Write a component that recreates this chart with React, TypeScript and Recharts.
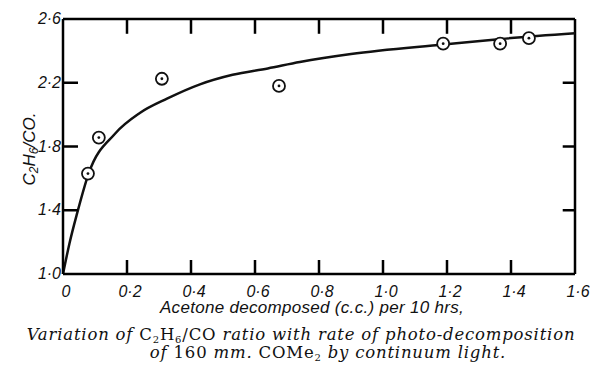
import React from "react";
import { ComposedChart, Line, Scatter, XAxis, YAxis, ReferenceLine } from "recharts";

const curveX = [0, 0.02, 0.044, 0.08, 0.1625, 0.24, 0.325, 0.428, 0.53, 0.64, 0.74, 0.9, 1.19, 1.37, 1.6];
const curveY = [1.0, 1.19, 1.38, 1.63, 1.88, 2.01, 2.1, 2.19, 2.25, 2.29, 2.33, 2.38, 2.44, 2.475, 2.51];

// measured points
const pointX = [0.078, 0.112, 0.309, 0.675, 1.188, 1.366, 1.456];
const pointY = [1.63, 1.856, 2.225, 2.18, 2.445, 2.445, 2.48];

const xTicks = [0, 0.2, 0.4, 0.6, 0.8, 1.0, 1.2, 1.4, 1.6];
const yTicks = [1.0, 1.4, 1.8, 2.2, 2.6];

const X_MIN = 0, X_MAX = 1.6, Y_MIN = 1.0, Y_MAX = 2.6;
// top/right inward tick lengths as fractions of the axis range
const topTickLen = 0.058 * (Y_MAX - Y_MIN);
const rightTickLen = 0.024 * (X_MAX - X_MIN);

const curve = curveX.map((x, i) => ({ x, y: curveY[i] }));
const points = pointX.map((x, i) => ({ x, y: pointY[i] }));
const innerX = xTicks.filter((v) => v > X_MIN && v < X_MAX);
const innerY = yTicks.filter((v) => v > Y_MIN && v < Y_MAX);

const fmt = (v: number) => (v === 0 ? "0" : v.toFixed(1).replace(".", "\u00b7"));

const INK = "#000";
const TICK_W = 2.5;

const tickFont = {
  fontFamily: "'Liberation Sans', Arial, sans-serif",
  fontStyle: "italic" as const,
  fontSize: 16,
  fill: "#111",
};

const renderBottom = (props: any) => {
  const { x, y, payload } = props;
  const v = Number(payload.value);
  const inner = v > X_MIN && v < X_MAX;
  return (
    <g key={`b-${v}`}>
      {inner ? <rect x={x - TICK_W / 2} y={y - 14} width={TICK_W} height={14} fill={INK} /> : null}
      <text x={x + 3} y={y + 23} textAnchor="middle" {...tickFont}>
        {fmt(v)}
      </text>
    </g>
  );
};

const renderLeft = (props: any) => {
  const { x, y, payload } = props;
  const v = Number(payload.value);
  const inner = v > Y_MIN && v < Y_MAX;
  return (
    <g key={`l-${v}`}>
      {inner ? <rect x={x} y={y - TICK_W / 2} width={15} height={TICK_W} fill={INK} /> : null}
      <text x={x - 2} y={y + 5} textAnchor="end" {...tickFont}>
        {fmt(v)}
      </text>
    </g>
  );
};

const Ring = (props: any) => {
  const { cx, cy } = props;
  return (
    <g>
      <circle cx={cx} cy={cy} r={6} fill="#fff" stroke="#111" strokeWidth={1.8} />
      <circle cx={cx} cy={cy} r={1.4} fill="#111" />
    </g>
  );
};

const sansItalic: React.CSSProperties = {
  fontFamily: "'Liberation Sans', Arial, sans-serif",
  fontStyle: "italic",
  color: "#111",
  whiteSpace: "nowrap",
};

const serif: React.CSSProperties = {
  fontFamily: "'DejaVu Serif', serif",
  fontSize: 16.5,
  letterSpacing: 0.8,
  color: "#111",
  whiteSpace: "nowrap",
  lineHeight: "18px",
};

const sub: React.CSSProperties = { fontSize: 10, verticalAlign: -3, lineHeight: 0 };

export default function App() {
  return (
    <div style={{ position: "absolute", left: 0, top: 0, width: 594, height: 368, background: "#fff" }}>
      <ComposedChart width={594} height={368} margin={{ top: 19, right: 19, left: 8, bottom: 64 }}>
        <XAxis
          xAxisId="b"
          dataKey="x"
          type="number"
          domain={[X_MIN, X_MAX]}
          ticks={xTicks}
          height={30}
          tickSize={0}
          tickMargin={0}
          tickLine={false}
          axisLine={{ stroke: INK, strokeWidth: 2.5 }}
          tick={renderBottom}
          interval={0}
        />
        <YAxis
          yAxisId="l"
          dataKey="y"
          type="number"
          domain={[Y_MIN, Y_MAX]}
          ticks={yTicks}
          width={55}
          tickSize={0}
          tickMargin={0}
          tickLine={false}
          axisLine={{ stroke: INK, strokeWidth: 2.5 }}
          tick={renderLeft}
          interval={0}
        />
        {/* top and right frame */}
        <ReferenceLine xAxisId="b" yAxisId="l" y={Y_MAX} stroke={INK} strokeWidth={2.5} />
        <ReferenceLine xAxisId="b" yAxisId="l" x={X_MAX} stroke={INK} strokeWidth={2.5} />
        {innerX.map((v) => (
          <ReferenceLine
            key={`xt-${v}`}
            xAxisId="b"
            yAxisId="l"
            segment={[{ x: v, y: Y_MAX }, { x: v, y: Y_MAX - topTickLen }]}
            stroke={INK}
            strokeWidth={TICK_W}
            ifOverflow="visible"
          />
        ))}
        {innerY.map((v) => (
          <ReferenceLine
            key={`yr-${v}`}
            xAxisId="b"
            yAxisId="l"
            segment={[{ x: X_MAX, y: v }, { x: X_MAX - rightTickLen, y: v }]}
            stroke={INK}
            strokeWidth={TICK_W}
            ifOverflow="visible"
          />
        ))}
        <Line
          xAxisId="b"
          yAxisId="l"
          data={curve}
          dataKey="y"
          type="monotone"
          stroke="#111"
          strokeWidth={2.5}
          dot={false}
          activeDot={false}
          isAnimationActive={false}
        />
        <Scatter
          xAxisId="b"
          yAxisId="l"
          data={points}
          dataKey="y"
          shape={<Ring />}
          isAnimationActive={false}
        />
      </ComposedChart>

      <div
        style={{
          ...sansItalic,
          position: "absolute",
          left: -30,
          top: 139,
          width: 120,
          height: 20,
          lineHeight: "20px",
          fontSize: 17,
          textAlign: "center",
          transform: "rotate(-90deg)",
        }}
      >
        C<span style={{ ...sub, fontSize: 12 }}>2</span>H<span style={{ ...sub, fontSize: 12 }}>6</span>/CO.
      </div>

      <div
        style={{
          ...sansItalic,
          position: "absolute",
          left: 12,
          top: 298,
          width: 600,
          fontSize: 17,
          letterSpacing: 0.3,
          textAlign: "center",
        }}
      >
        Acetone decomposed (c.c.) per 10 hrs,
      </div>

      <div style={{ ...serif, position: "absolute", left: 0, top: 326, width: 602, textAlign: "center" }}>
        <i>Variation of </i>C<span style={sub}>2</span>H<span style={sub}>6</span>/CO{" "}
        <i>ratio with rate of photo-decomposition</i>
      </div>
      <div style={{ ...serif, position: "absolute", left: 0, top: 344, width: 656, textAlign: "center" }}>
        <i>of </i>160 <i>mm.</i> COMe<span style={sub}>2</span> <i>by continuum light.</i>
      </div>
    </div>
  );
}
